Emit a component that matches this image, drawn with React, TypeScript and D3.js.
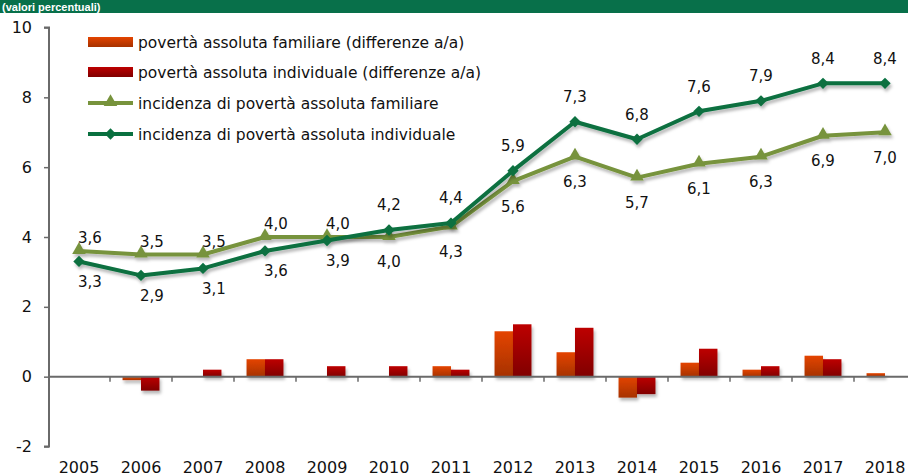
import React, { useEffect, useRef } from "react";
import * as d3 from "d3";

const years = ["2005", "2006", "2007", "2008", "2009", "2010", "2011", "2012", "2013", "2014", "2015", "2016", "2017", "2018"];
const famIncidence = [3.6, 3.5, 3.5, 4.0, 4.0, 4.0, 4.3, 5.6, 6.3, 5.7, 6.1, 6.3, 6.9, 7.0];
const indIncidence = [3.3, 2.9, 3.1, 3.6, 3.9, 4.2, 4.4, 5.9, 7.3, 6.8, 7.6, 7.9, 8.4, 8.4];
const famDiff = [null, -0.1, 0.0, 0.5, 0.0, 0.0, 0.3, 1.3, 0.7, -0.6, 0.4, 0.2, 0.6, 0.1];
const indDiff = [null, -0.4, 0.2, 0.5, 0.3, 0.3, 0.2, 1.5, 1.4, -0.5, 0.8, 0.3, 0.5, 0.0];
const yTicks = [-2, 0, 2, 4, 6, 8, 10];
const legendLabels = [
  "povertà assoluta familiare (differenze a/a)",
  "povertà assoluta individuale (differenze a/a)",
  "incidenza di povertà assoluta familiare",
  "incidenza di povertà assoluta individuale",
];
const bannerText = "(valori percentuali)";

const W = 908;
const H = 476;
const FONT = "'DejaVu Sans', Verdana, sans-serif";
const AXIS = "#6a6a6a";
const FAM_LINE = "#77933c";
const IND_LINE = "#09703f";

const App = () => {
  const ref = useRef<SVGSVGElement>(null);

  useEffect(() => {
    const svg = d3.select(ref.current);
    svg.selectAll("*").remove();

    // defs: gradients + shadow
    const defs = svg.append("defs");
    const grad = (id: string, top: string, bottom: string) => {
      const g = defs.append("linearGradient").attr("id", id).attr("x1", 0).attr("y1", 0).attr("x2", 0).attr("y2", 1);
      g.append("stop").attr("offset", "0%").attr("stop-color", top);
      g.append("stop").attr("offset", "100%").attr("stop-color", bottom);
    };
    grad("gFam", "#e44400", "#a63200");
    grad("gInd", "#bd0000", "#800000");
    const sh = defs.append("filter").attr("id", "shadow").attr("x", "-20%").attr("y", "-20%").attr("width", "150%").attr("height", "160%");
    sh.append("feDropShadow").attr("dx", 1.5).attr("dy", 3).attr("stdDeviation", 1.5)
      .attr("flood-color", "#000").attr("flood-opacity", 0.28);

    // banner
    svg.append("rect").attr("x", 0).attr("y", 0).attr("width", W).attr("height", 13).attr("fill", "#08704a");
    svg.append("text").attr("x", 2).attr("y", 10.5)
      .attr("font-family", "'Liberation Sans', Arial, sans-serif").attr("font-weight", "bold")
      .attr("font-size", 11).attr("fill", "#fff")
      .text(bannerText);

    // scales
    const x = d3.scaleBand().domain(years).range([48, 48 + 62 * years.length]).padding(0);
    const xSub = d3.scaleBand().domain(["fam", "ind"]).range([0, x.bandwidth()]).paddingInner(0).paddingOuter(0.68);
    const y = d3.scaleLinear().domain([-2, 10]).range([446.5, 27.5]);
    const cx = (i: number) => (x(years[i]) as number) + x.bandwidth() / 2;
    const fmt = (v: number) => d3.format(".1f")(v).replace(".", ",");

    // bars
    const barSeries = [
      { key: "fam", values: famDiff, fill: "url(#gFam)" },
      { key: "ind", values: indDiff, fill: "url(#gInd)" },
    ];
    barSeries.forEach((s) => {
      svg.append("g").attr("filter", "url(#shadow)")
        .selectAll("rect")
        .data(s.values.map((v, i) => ({ v, i })).filter((d) => d.v !== null && d.v !== 0))
        .enter()
        .append("rect")
        .attr("x", (d) => (x(years[d.i]) as number) + (xSub(s.key) as number))
        .attr("width", xSub.bandwidth())
        .attr("y", (d) => y(Math.max(0, d.v as number)))
        .attr("height", (d) => Math.abs(y(d.v as number) - y(0)))
        .attr("fill", s.fill);
    });

    // y axis
    const yAxis = svg.append("g").attr("transform", "translate(49,0)")
      .call(d3.axisLeft(y).tickValues(yTicks).tickSize(5).tickPadding(12).tickFormat((d) => String(d)));
    yAxis.select(".domain").attr("stroke", AXIS).attr("stroke-width", 2).attr("d", `M-5,${y(-2)}H0V${y(10)}H-5`);
    yAxis.selectAll(".tick line").attr("stroke", AXIS).attr("stroke-width", 1.5);
    yAxis.selectAll("text").attr("font-family", FONT).attr("font-size", 16).attr("fill", "#111");

    // zero line with category ticks
    svg.append("line").attr("x1", 48).attr("x2", W).attr("y1", y(0)).attr("y2", y(0))
      .attr("stroke", AXIS).attr("stroke-width", 2);
    svg.append("g").selectAll("line")
      .data(years.slice(1))
      .enter()
      .append("line")
      .attr("x1", (d) => x(d) as number).attr("x2", (d) => x(d) as number)
      .attr("y1", y(0)).attr("y2", y(0) + 5)
      .attr("stroke", AXIS).attr("stroke-width", 1.5);

    // year labels
    const xAxis = svg.append("g").attr("transform", "translate(0,446)")
      .call(d3.axisBottom(x).tickSize(0).tickPadding(16));
    xAxis.select(".domain").remove();
    xAxis.selectAll("text").attr("font-family", FONT).attr("font-size", 16).attr("fill", "#111");

    // lines
    const lineSeries = [
      { key: "fam", values: famIncidence, color: FAM_LINE, shape: "tri" },
      { key: "ind", values: indIncidence, color: IND_LINE, shape: "dia" },
    ];
    const line = d3.line<number>().x((_, i) => cx(i)).y((d) => y(d));
    const triangle = d3.symbol().type(d3.symbolTriangle).size(80);
    const diamond = d3.symbol().type(d3.symbolSquare).size(64);

    lineSeries.forEach((s) => {
      const g = svg.append("g").attr("filter", "url(#shadow)");
      g.append("path").attr("d", line(s.values)).attr("fill", "none")
        .attr("stroke", s.color).attr("stroke-width", 4).attr("stroke-linejoin", "round");
      g.selectAll("path.m")
        .data(s.values)
        .enter()
        .append("path")
        .attr("class", "m")
        .attr("d", s.shape === "tri" ? triangle() : diamond())
        .attr("transform", (d, i) =>
          s.shape === "tri"
            ? `translate(${cx(i)},${y(d) - 1})`
            : `translate(${cx(i)},${y(d)}) rotate(45)`)
        .attr("fill", s.color);
    });

    // data labels: early years familiar above, later years individual above
    lineSeries.forEach((s) => {
      svg.append("g").selectAll("text")
        .data(s.values)
        .enter()
        .append("text")
        .attr("x", (d, i) => cx(i) + (i < 5 ? 11 : 0))
        .attr("y", (d, i) => {
          const above = s.key === "fam" ? i < 5 : i >= 5;
          const off = i < 5 ? (above ? -13 : 20) : above ? -25 : 25;
          return y(d) + off;
        })
        .attr("dy", "0.36em")
        .attr("text-anchor", "middle")
        .attr("font-family", FONT).attr("font-size", 15).attr("fill", "#111")
        .text((d) => fmt(d));
    });

    // legend
    const legendY = [42, 72, 103, 134];
    const lg = svg.append("g");
    legendLabels.forEach((label, i) => {
      const row = lg.append("g").attr("transform", `translate(0,${legendY[i]})`);
      if (i < 2) {
        row.append("rect").attr("x", 88).attr("y", -5).attr("width", 45).attr("height", 10)
          .attr("fill", i === 0 ? "url(#gFam)" : "url(#gInd)");
      } else {
        const s = lineSeries[i - 2];
        row.append("line").attr("x1", 88).attr("x2", 133).attr("y1", 0).attr("y2", 0)
          .attr("stroke", s.color).attr("stroke-width", 4);
        row.append("path").attr("d", s.shape === "tri" ? triangle() : diamond())
          .attr("transform", s.shape === "tri" ? "translate(110.5,-1)" : "translate(110.5,0) rotate(45)")
          .attr("fill", s.color);
      }
      row.append("text").attr("x", 138).attr("y", 0).attr("dy", "0.36em")
        .attr("font-family", FONT).attr("font-size", 15.5).attr("fill", "#111")
        .text(label);
    });
  }, []);

  return (
    <svg
      ref={ref}
      width={W}
      height={H}
      style={{ position: "absolute", left: 0, top: 0, background: "#fff" }}
    />
  );
};

export default App;
